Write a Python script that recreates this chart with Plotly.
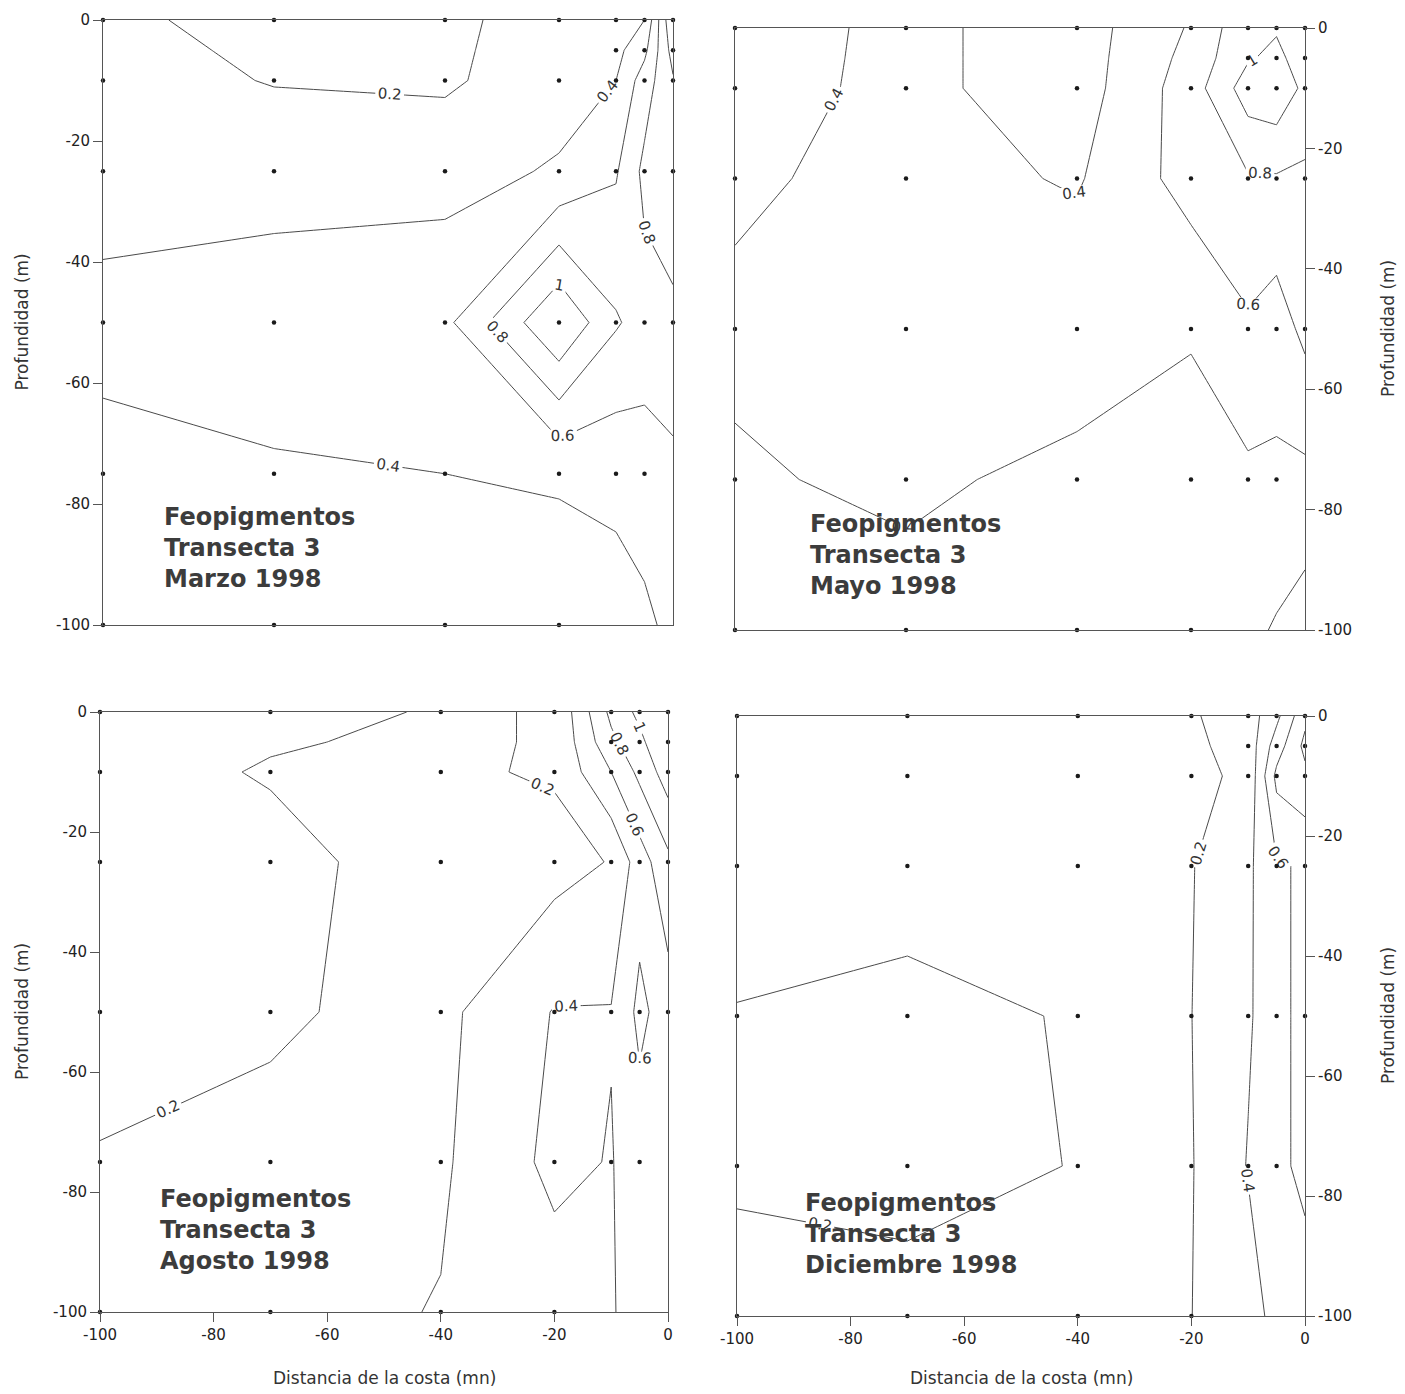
import plotly.graph_objects as go

# ---------------- data ----------------
DIST = [-100, -70, -40, -20, -10, -5, 0]          # distancia de la costa (mn)
DEPTH = [0, -5, -10, -25, -50, -75, -100]          # profundidad (m)

# sampled depths at each station (dots)
STATION_DEPTHS = {
    -100: [0, -10, -25, -50, -75, -100],
    -70: [0, -10, -25, -50, -75, -100],
    -40: [0, -10, -25, -50, -75, -100],
    -20: [0, -10, -25, -50, -75, -100],
    -10: [0, -5, -10, -25, -50, -75],
    -5: [0, -5, -10, -25, -50, -75],
    0: [0, -5, -10, -25, -50],
}

# feopigment values, rows = DEPTH, cols = DIST
Z_MARZO = [
    [0.25, 0.12, 0.15, 0.30, 0.30, 0.40, 1.20],
    [0.27, 0.16, 0.16, 0.31, 0.34, 0.55, 1.08],
    [0.28, 0.19, 0.17, 0.32, 0.40, 0.70, 0.98],
    [0.33, 0.33, 0.33, 0.42, 0.58, 0.85, 0.95],
    [0.45, 0.50, 0.55, 1.20, 0.82, 0.72, 0.75],
    [0.35, 0.38, 0.40, 0.42, 0.45, 0.50, 0.55],
    [0.30, 0.30, 0.30, 0.30, 0.32, 0.36, 0.45],
]
Z_MAYO = [
    [0.30, 0.45, 0.30, 0.62, 0.95, 0.98, 0.85],
    [0.31, 0.45, 0.30, 0.66, 0.98, 1.05, 0.90],
    [0.32, 0.45, 0.30, 0.70, 1.10, 1.15, 0.95],
    [0.36, 0.48, 0.38, 0.68, 0.78, 0.78, 0.76],
    [0.45, 0.50, 0.55, 0.42, 0.57, 0.50, 0.65],
    [0.37, 0.45, 0.33, 0.30, 0.36, 0.36, 0.35],
    [0.30, 0.30, 0.30, 0.28, 0.25, 0.18, 0.10],
]
Z_AGOSTO = [
    [0.25, 0.24, 0.19, 0.205, 0.85, 1.05, 1.30],
    [0.25, 0.21, 0.18, 0.21, 0.75, 0.95, 1.20],
    [0.25, 0.19, 0.17, 0.22, 0.60, 0.85, 1.10],
    [0.24, 0.24, 0.14, 0.13, 0.21, 0.50, 0.75],
    [0.26, 0.22, 0.15, 0.41, 0.41, 0.65, 0.50],
    [0.19, 0.16, 0.17, 0.45, 0.39, 0.50, 0.45],
    [0.15, 0.12, 0.21, 0.30, 0.38, 0.50, 0.40],
]
Z_DICIEMBRE = [
    [0.12, 0.10, 0.12, 0.18, 0.30, 0.55, 0.95],
    [0.12, 0.11, 0.12, 0.16, 0.28, 0.70, 1.05],
    [0.12, 0.12, 0.13, 0.14, 0.25, 0.85, 0.95],
    [0.15, 0.14, 0.14, 0.19, 0.36, 0.58, 0.62],
    [0.205, 0.24, 0.19, 0.198, 0.38, 0.50, 0.70],
    [0.22, 0.25, 0.195, 0.19, 0.41, 0.55, 0.65],
    [0.15, 0.15, 0.15, 0.198, 0.33, 0.45, 0.50],
]

PANEL_TITLES = [
    "Feopigmentos<br>Transecta 3<br>Marzo 1998",
    "Feopigmentos<br>Transecta 3<br>Mayo 1998",
    "Feopigmentos<br>Transecta 3<br>Agosto 1998",
    "Feopigmentos<br>Transecta 3<br>Diciembre 1998",
]
TICKS = [-100, -80, -60, -40, -20, 0]
TICK_TEXT = ["-100", "-80", "-60", "-40", "-20", "0"]
Y_TITLE = "Profundidad (m)"
X_TITLE = "Distancia de la costa (mn)"

# ---------------- layout geometry (pixels) ----------------
W, H = 1405, 1394
# (left, right, top, bottom) pixel boxes of the plot areas
BOXES = [
    (103, 673, 20, 625),
    (735, 1305, 28, 630),
    (100, 668, 712, 1312),
    (737, 1305, 716, 1316),
]
TEXT_POS = [(-89.6, -79.5), (-87.2, -79.8), (-89.8, -78.5), (-88.4, -78.5)]

FONT = "DejaVu Sans"
LINE_COL = "#4a4a4a"

fig = go.Figure()
ys = DEPTH[::-1]
zs_all = [Z_MARZO, Z_MAYO, Z_AGOSTO, Z_DICIEMBRE]

sx, sy = [], []
for d in DIST:
    for dep in STATION_DEPTHS[d]:
        sx.append(d)
        sy.append(dep)

for i, Z in enumerate(zs_all):
    xa = "x" if i == 0 else f"x{i+1}"
    ya = "y" if i == 0 else f"y{i+1}"
    fig.add_trace(go.Contour(
        x=DIST, y=ys, z=Z[::-1],
        contours=dict(start=0.2, end=1.0, size=0.2, coloring="lines",
                      showlabels=True,
                      labelfont=dict(family=FONT, size=15, color="#333")),
        line=dict(width=1, smoothing=0),
        colorscale=[[0, LINE_COL], [1, LINE_COL]],
        showscale=False, hoverinfo="skip",
        xaxis=xa, yaxis=ya,
    ))
    fig.add_trace(go.Scatter(
        x=sx, y=sy, mode="markers",
        marker=dict(size=4.5, color="#1a1a1a"),
        cliponaxis=False, showlegend=False, hoverinfo="skip",
        xaxis=xa, yaxis=ya,
    ))

layout = dict(
    width=W, height=H, margin=dict(l=0, r=0, t=0, b=0, autoexpand=False),
    paper_bgcolor="white", plot_bgcolor="white", showlegend=False,
    font=dict(family=FONT, size=15, color="#222"),
)
annotations = []
for i, (l, r, t, b) in enumerate(BOXES):
    xk = "xaxis" if i == 0 else f"xaxis{i+1}"
    yk = "yaxis" if i == 0 else f"yaxis{i+1}"
    xa = "x" if i == 0 else f"x{i+1}"
    ya = "y" if i == 0 else f"y{i+1}"
    bottom = i >= 2
    right = i % 2 == 1
    layout[xk] = dict(
        domain=[l / W, r / W], anchor=ya, range=[-100, 0], automargin=False,
        showgrid=False, zeroline=False, showline=True, mirror=True,
        linecolor="#555", linewidth=1,
        tickvals=TICKS, ticktext=TICK_TEXT,
        showticklabels=bottom, ticks="outside" if bottom else "",
        ticklen=9, tickcolor="#555",
        tickfont=dict(family=FONT, size=15, color="#222"),
    )
    layout[yk] = dict(
        domain=[1 - b / H, 1 - t / H], anchor=xa, range=[-100, 0], automargin=False,
        side="right" if right else "left",
        showgrid=False, zeroline=False, showline=True, mirror=True,
        linecolor="#555", linewidth=1,
        tickvals=TICKS, ticktext=TICK_TEXT, ticks="outside",
        ticklen=9, tickcolor="#555",
        tickfont=dict(family=FONT, size=15, color="#222"),
    )
    tx, ty = TEXT_POS[i]
    annotations.append(dict(
        x=tx, y=ty, xref=xa, yref=ya, xanchor="left", yanchor="top",
        text="<b>" + PANEL_TITLES[i] + "</b>", align="left", showarrow=False,
        font=dict(family=FONT, size=24, color="#3c3c3c"),
    ))
    # y axis titles
    annotations.append(dict(
        x=(1388 if right else 22) / W, y=1 - (t + b) / 2 / H,
        xref="paper", yref="paper", xanchor="center", yanchor="middle",
        text=Y_TITLE, textangle=-90, showarrow=False,
        font=dict(family=FONT, size=17, color="#333"),
    ))
    if bottom:
        annotations.append(dict(
            x=(l + r) / 2 / W, y=1 - 1378 / H,
            xref="paper", yref="paper", xanchor="center", yanchor="middle",
            text=X_TITLE, showarrow=False,
            font=dict(family=FONT, size=17, color="#333"),
        ))
layout["annotations"] = annotations
fig.update_layout(**layout)
fig.write_html("out.html", config={"displayModeBar": False, "staticPlot": True})

# remove the default page margin so the figure sits at the window origin
with open("out.html", "r", encoding="utf-8") as f:
    html = f.read()
html = html.replace("<body>", '<body style="margin:0;padding:0;overflow:hidden">', 1)
with open("out.html", "w", encoding="utf-8") as f:
    f.write(html)
